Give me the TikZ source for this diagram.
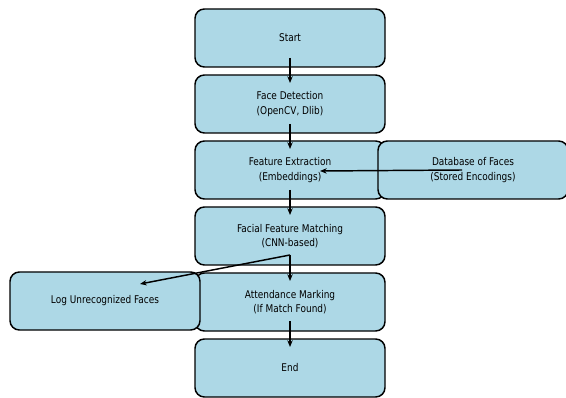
\documentclass[tikz,border=0pt]{standalone}
\usepackage{fontspec}
\setmainfont{DejaVu Sans}[FakeStretch=0.84]
\usetikzlibrary{calc,arrows.meta}

\tikzset{
  stepbox/.style={draw=black,line width=1.1pt,fill=lightblue,rounded corners=7pt,
    minimum width=142.5pt,minimum height=43.5pt,align=center,inner sep=0pt},
  flow/.style={line width=1.1pt,-{Stealth[length=5pt,width=4pt]}}
}
\definecolor{lightblue}{HTML}{ADD8E6}

\begin{document}
\begin{tikzpicture}[x=0.75pt,y=-0.75pt,line join=round,
    font=\fontsize{8}{10.8}\selectfont]

  \useasboundingbox (0,0) rectangle (566,398);

  % ---- the main column -----------------------------------------------------
  \node[stepbox] (start)   at (290,38)  {Start};
  \node[stepbox] (detect)  at (290,104) {Face Detection\\(OpenCV, Dlib)};
  \node[stepbox] (extract) at (290,170) {Feature Extraction\\(Embeddings)};
  \node[stepbox] (match)   at (290,236) {Facial Feature Matching\\(CNN-based)};
  \node[stepbox] (mark)    at (290,302) {Attendance Marking\\(If Match Found)};
  \node[stepbox] (finish)  at (290,368) {End};

  % ---- the side boxes ------------------------------------------------------
  \node[stepbox] (facedb)  at (473,170) {Database of Faces\\(Stored Encodings)};
  \node[stepbox] (unknown) at (105,301) {Log Unrecognized Faces};

  % ---- arrows --------------------------------------------------------------
  \draw[flow] ($(start.center)+(0,20)$)   -- ($(detect.center)+(0,-21)$);
  \draw[flow] ($(detect.center)+(0,20)$)  -- ($(extract.center)+(0,-21)$);
  \draw[flow] ($(extract.center)+(0,20)$) -- ($(match.center)+(0,-21)$);
  \draw[flow] ($(match.center)+(0,19)$)   -- ($(mark.center)+(0,-21)$);
  \draw[flow] ($(mark.center)+(0,19)$)    -- ($(finish.center)+(0,-21)$);
  \draw[flow] ($(facedb.center)+(-11,0)$) -- ($(extract.center)+(30,1)$);
  \draw[flow] ($(match.center)+(0,19)$)   -- ($(unknown.center)+(35,-17)$);

\end{tikzpicture}
\end{document}
